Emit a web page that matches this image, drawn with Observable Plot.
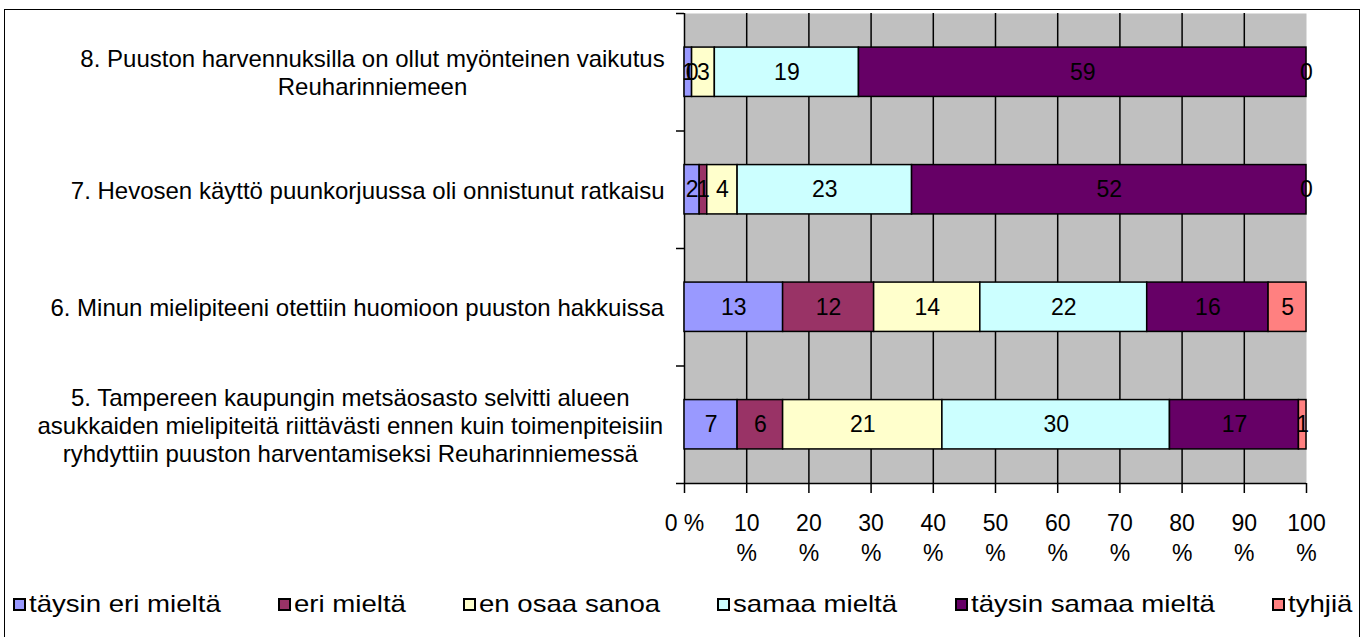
<!DOCTYPE html>
<html>
<head>
<meta charset="utf-8">
<script src="https://cdn.jsdelivr.net/npm/d3@7"></script>
<script src="https://cdn.jsdelivr.net/npm/@observablehq/plot@0.6"></script>
<style>
  html, body { margin: 0; padding: 0; background: #fff; }
  body { width: 1370px; height: 637px; overflow: hidden; position: relative; font-family: "Liberation Sans", Arial, sans-serif; }
  #frame { position: absolute; left: 4px; top: 9px; width: 1356px; height: 700px; border: 1.5px solid #000; border-bottom: none; box-sizing: border-box; }
  #chart { position: absolute; left: 0; top: 0; }
  #legend { position: absolute; left: 13px; top: 588px; width: 1339px; height: 32px; font-size: 24px; color: #000; display: flex; justify-content: space-between; }
  .item { white-space: nowrap; line-height: 30px; display: flex; align-items: center; }
  .sw { display: inline-block; width: 9px; height: 9px; border: 2px solid #000; margin-right: 3px; flex: none; }
  .txt { display: inline-block; overflow: visible; }
  .txt span { display: inline-block; transform-origin: 0 50%; }
</style>
</head>
<body>
<div id="frame"></div>
<div id="chart"></div>
<div id="legend"></div>
<script>
// ---- data ----
const questions = [
  "8. Puuston harvennuksilla on ollut myönteinen vaikutus\nReuharinniemeen",
  "7. Hevosen käyttö puunkorjuussa oli onnistunut ratkaisu",
  "6. Minun mielipiteeni otettiin huomioon puuston hakkuissa",
  "5. Tampereen kaupungin metsäosasto selvitti alueen\nasukkaiden mielipiteitä riittävästi ennen kuin toimenpiteisiin\nryhdyttiin puuston harventamiseksi Reuharinniemessä"
];
const categories = ["täysin eri mieltä", "eri mieltä", "en osaa sanoa", "samaa mieltä", "täysin samaa mieltä", "tyhjiä"];
const colors = ["#9999FF", "#993366", "#FFFFCC", "#CCFFFF", "#660066", "#FF8080"];
const q8 = [1, 0, 3, 19, 59, 0];
const q7 = [2, 1, 4, 23, 52, 0];
const q6 = [13, 12, 14, 22, 16, 5];
const q5 = [7, 6, 21, 30, 17, 1];
const xTicks = [0, 10, 20, 30, 40, 50, 60, 70, 80, 90, 100];

// ---- build stacked (100%) table ----
const series = [q8, q7, q6, q5];
const rows = [];
series.forEach((vals, i) => {
  const total = d3.sum(vals);
  let acc = 0;
  vals.forEach((v, j) => {
    const x1 = acc / total * 100;
    acc += v;
    const x2 = acc / total * 100;
    rows.push({question: questions[i], idx: i, category: categories[j], value: v, x1, x2});
  });
});

const FAM = "'Liberation Sans', Arial, sans-serif";
const ctx = document.createElement("canvas").getContext("2d");
const LBL_SIZE = 24, LBL_LS = 0.4;
ctx.font = `${LBL_SIZE}px ${FAM}`;
const labelGap = 9;
const bandPad = 0.29;

const labelMarks = questions.map((q, i) => {
  const w = d3.max(q.split("\n"), s => ctx.measureText(s).width + LBL_LS * s.length);
  return Plot.text([{q, pos: i + 0.5}], {
    y: "pos", text: "q", frameAnchor: "left", textAnchor: "middle",
    dx: -(labelGap + w / 2), lineHeight: 1.18, fill: "black",
    fontSize: LBL_SIZE, letterSpacing: LBL_LS
  });
});

const chart = Plot.plot({
  width: 1370,
  height: 580,
  marginLeft: 684,
  marginRight: 64,
  marginTop: 13,
  marginBottom: 97,
  style: {fontFamily: FAM, fontSize: "23px", background: "transparent", color: "black", overflow: "visible"},
  x: {domain: [0, 100]},
  y: {domain: [0, 4], reverse: true},
  color: {domain: categories, range: colors},
  marks: [
    Plot.frame({fill: "#C0C0C0", stroke: null}),
    Plot.ruleX(xTicks.filter(d => d < 100), {stroke: "black", strokeWidth: 1.5}),
    Plot.rect(rows, {x1: "x1", x2: "x2", y1: d => d.idx + bandPad, y2: d => d.idx + 1 - bandPad, fill: "category", stroke: "black", strokeWidth: 1.5}),
    Plot.text(rows, {x: d => (d.x1 + d.x2) / 2, y: d => d.idx + 0.5, text: d => String(d.value), fill: "black"}),
    Plot.ruleY([4], {stroke: "black", strokeWidth: 1.5}),
    Plot.axisX({ticks: xTicks, tickSize: 10, tickPadding: 16, tickFormat: d => d === 0 ? "0 %" : `${d}\n%`, lineHeight: 1.3, strokeWidth: 1.5, label: null}),
    Plot.axisY({ticks: [0, 1, 2, 3, 4], tickSize: 8, tickFormat: () => "", strokeWidth: 1.5, label: null}),
    ...labelMarks
  ]
});
document.getElementById("chart").append(chart);

// ---- legend ----
const LEG_SIZE = 24, LEG_STRETCH = 1.15;
ctx.font = `${LEG_SIZE}px ${FAM}`;
const legend = document.getElementById("legend");
categories.forEach((c, i) => {
  const it = document.createElement("div");
  it.className = "item";
  const sw = document.createElement("span");
  sw.className = "sw";
  sw.style.background = colors[i];
  const txt = document.createElement("span");
  txt.className = "txt";
  txt.style.width = (ctx.measureText(c).width * LEG_STRETCH) + "px";
  const inner = document.createElement("span");
  inner.textContent = c;
  inner.style.transform = `scaleX(${LEG_STRETCH})`;
  txt.append(inner);
  it.append(sw, txt);
  legend.append(it);
});
</script>
</body>
</html>
